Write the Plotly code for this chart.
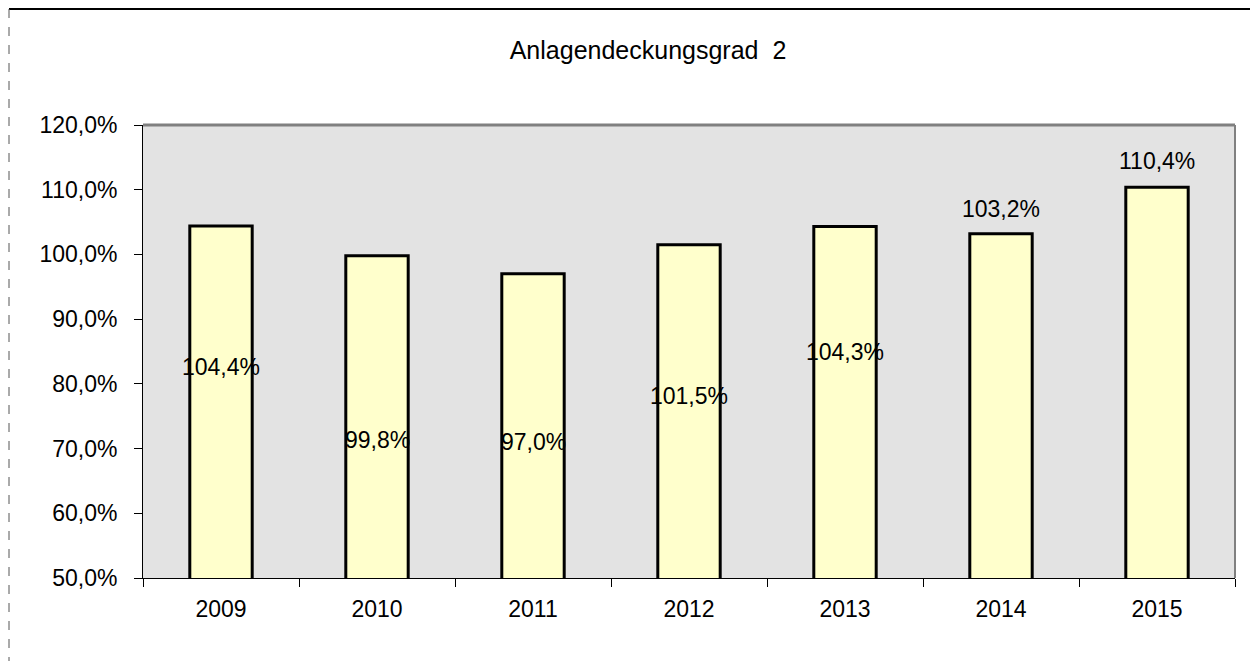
import plotly.graph_objects as go

# Data
years = ["2009", "2010", "2011", "2012", "2013", "2014", "2015"]
values = [104.4, 99.8, 97.0, 101.5, 104.3, 103.2, 110.4]
label_y = [82.6, 71.3, 71.0, 78.1, 84.9, 107.0, 114.4]
y_tick_vals = [50, 60, 70, 80, 90, 100, 110, 120]
y_tick_text = ["50,0%", "60,0%", "70,0%", "80,0%", "90,0%", "100,0%", "110,0%", "120,0%"]
title_text = "Anlagendeckungsgrad  2"

FONT = "Liberation Sans, Arial, sans-serif"

W, H = 1258, 661
OFF = 8  # page body offset
ml, mr = 143 - OFF, W - (1235 - OFF)
mt, mb = 125 - OFF, H - (578 - OFF)
pw = W - ml - mr
ph = H - mt - mb

def fx(fig_px):
    # figure-pixel x -> paper
    return (fig_px - ml) / pw

def fy(fig_px):
    # figure-pixel y (from top) -> paper
    return (H - mb - fig_px) / ph

fig = go.Figure()
fig.add_trace(go.Bar(
    x=years, y=values, width=0.4,
    marker=dict(color="#FFFFCC", line=dict(color="black", width=3)),
    hoverinfo="x+y",
))

def fmt(v):
    return f"{v:.1f}".replace(".", ",") + "%"

annotations = []
for i, (v, ly) in enumerate(zip(values, label_y)):
    annotations.append(dict(
        x=i, y=ly, xref="x", yref="y", text=fmt(v), showarrow=False,
        font=dict(family=FONT, size=23, color="black"),
        xanchor="center", yanchor="middle",
    ))

shapes = [
    # top and right plot borders (gray)
    dict(type="line", xref="paper", yref="paper", x0=0, x1=1, y0=1, y1=1,
         line=dict(color="#808080", width=3)),
    dict(type="line", xref="paper", yref="paper", x0=1, x1=1, y0=0, y1=1,
         line=dict(color="#808080", width=2)),
    # outer chart border: top solid, left dashed (at the figure's edge)
    dict(type="line", xref="paper", yref="paper", x0=fx(1), x1=fx(W + 5),
         y0=fy(1), y1=fy(1), line=dict(color="black", width=2)),
    dict(type="line", xref="paper", yref="paper", x0=fx(1), x1=fx(1),
         y0=fy(1), y1=fy(H + 5), line=dict(color="#555555", width=1, dash="dash")),
]

fig.update_layout(
    width=W, height=H,
    margin=dict(l=ml, r=mr, t=mt, b=mb),
    paper_bgcolor="white",
    plot_bgcolor="#E3E3E3",
    showlegend=False,
    title=dict(text=title_text, x=(648 - OFF) / W, xref="container", xanchor="center",
               y=1 - (50 - OFF) / H, yref="container", yanchor="middle",
               font=dict(family=FONT, size=25, color="black")),
    font=dict(family=FONT, size=23, color="black"),
    xaxis=dict(
        type="category", range=[-0.5, len(years) - 0.5],
        showgrid=False, showline=True, linecolor="black", linewidth=1,
        ticks="outside", tickson="boundaries", ticklen=8, tickcolor="black",
        tickfont=dict(family=FONT, size=23, color="black"), tickangle=0,
        ticklabelstandoff=10,
        zeroline=False,
    ),
    yaxis=dict(
        range=[50, 120], showgrid=False, showline=True, linecolor="black", linewidth=1,
        ticks="outside", ticklen=8, tickcolor="black",
        tickvals=y_tick_vals, ticktext=y_tick_text,
        tickfont=dict(family=FONT, size=23, color="black"),
        ticklabelstandoff=12,
        zeroline=False,
    ),
    annotations=annotations,
    shapes=shapes,
)

fig.write_html("out.html")
